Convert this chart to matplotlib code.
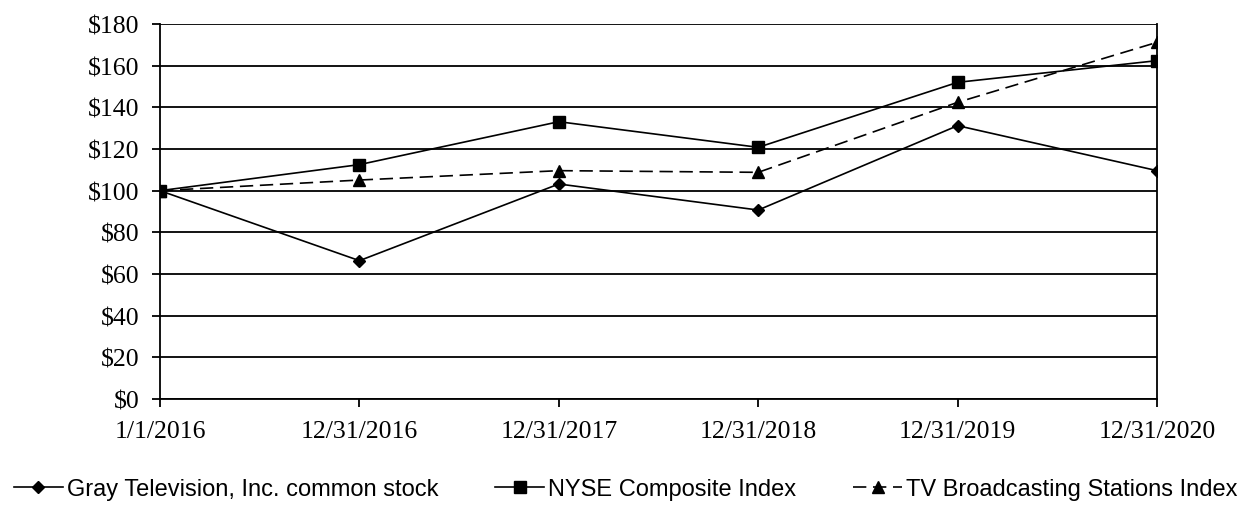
import matplotlib
matplotlib.use("Agg")
import matplotlib.pyplot as plt
from matplotlib.ticker import FuncFormatter

dates = ["1/1/2016", "12/31/2016", "12/31/2017", "12/31/2018", "12/31/2019", "12/31/2020"]
gray_tv = [100, 66.4, 103.2, 90.7, 131.2, 109.6]
nyse = [100, 112.5, 133.1, 120.8, 152.0, 162.4]
tv_index = [100, 105.1, 109.6, 108.8, 142.4, 171.2]

serif = ["Liberation Serif", "DejaVu Serif"]
sans = ["Liberation Sans", "DejaVu Sans"]

fig = plt.figure(figsize=(12.51, 5.06), dpi=100)
ax = fig.add_axes([0.1279, 0.2095, 0.7970, 0.7411])

x = list(range(len(dates)))
ax.plot(x, gray_tv, color="black", lw=1.2, marker="D", ms=6.5,
        label="Gray Television, Inc. common stock")
ax.plot(x, nyse, color="black", lw=1.2, marker="s", ms=8,
        label="NYSE Composite Index")
ax.plot(x, tv_index, color="black", lw=1.2, marker="^", ms=8,
        dashes=(8, 4), label="TV Broadcasting Stations Index")

ax.set_xlim(0, len(dates) - 1)
ax.set_ylim(0, 180)
ax.set_yticks(range(0, 181, 20))
ax.yaxis.set_major_formatter(FuncFormatter(lambda v, p: f"${v:.0f}"))
ax.set_xticks(x)
ax.set_xticklabels(dates)
ax.grid(axis="y", color="black", lw=1.3)
ax.set_axisbelow(True)

for s in ["left", "right", "bottom"]:
    ax.spines[s].set_color("black")
    ax.spines[s].set_linewidth(1.3)
ax.spines["top"].set_visible(False)
ax.tick_params(axis="both", direction="out", length=6, width=1.3, color="black",
               labelsize=18.5)
ax.tick_params(axis="y", pad=9)
ax.tick_params(axis="x", pad=9)
for lab in ax.get_xticklabels() + ax.get_yticklabels():
    lab.set_family(serif)

# legend sits along the bottom edge
leg = fig.legend(loc="lower center", bbox_to_anchor=(0.5, -0.018), ncol=3,
                 frameon=False, handlelength=2.1, handletextpad=0.15,
                 columnspacing=2.4, borderpad=0.1,
                 prop={"family": sans, "size": 17})

fig.savefig("out.png", dpi=100)
